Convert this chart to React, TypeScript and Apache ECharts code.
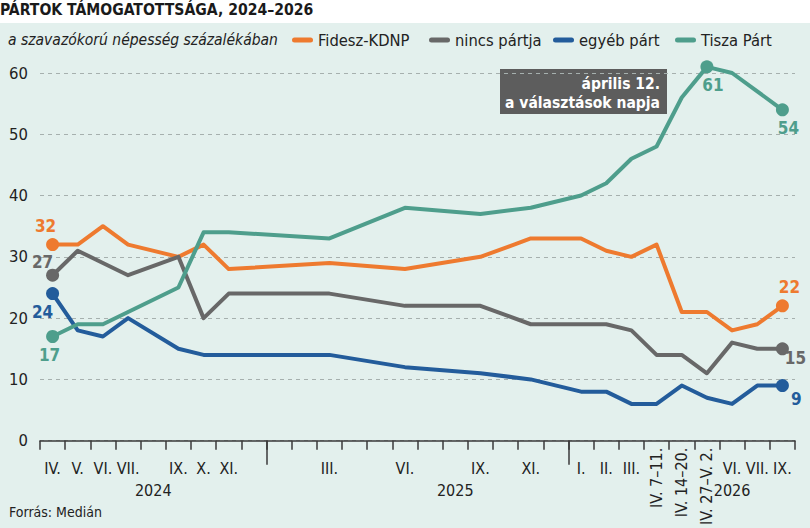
import React, { useEffect, useRef } from "react";
import * as echarts from "echarts";

// ---- data -------------------------------------------------------------
const categories = [
  "2024-04", "2024-05", "2024-06", "2024-07", "2024-08", "2024-09", "2024-10", "2024-11", "2024-12",
  "2025-01", "2025-02", "2025-03", "2025-04", "2025-05", "2025-06", "2025-07", "2025-08", "2025-09",
  "2025-10", "2025-11", "2025-12",
  "2026-01", "2026-02", "2026-03", "2026-04a", "2026-04b", "2026-04c", "2026-06", "2026-07", "2026-09",
];
const monthLabels = [
  "IV.", "V.", "VI.", "VII.", "", "IX.", "X.", "XI.", "",
  "", "", "III.", "", "", "VI.", "", "", "IX.", "", "XI.", "",
  "I.", "II.", "III.", "", "", "", "VI.", "VII.", "IX.",
];
const rotatedLabels: Record<number, string> = {
  24: "IV. 7–11.",
  25: "IV. 14–20.",
  26: "IV. 27–V. 2.",
};
const yearLabels: Record<number, string> = { 4: "2024", 16: "2025", 27: "2026" };
const yearBoundaries = [9, 21];
const electionBoundary = 25;

const fidesz = [32, 32, 35, 32, null, 30, 32, 28, null, null, null, 29, null, null, 28, null, null, 30, null, 33, null, 33, 31, 30, 32, 21, 21, 18, 19, 22];
const nincs = [27, 31, 29, 27, null, 30, 20, 24, null, null, null, 24, null, null, 22, null, null, 22, null, 19, null, 19, 19, 18, 14, 14, 11, 16, 15, 15];
const egyeb = [24, 18, 17, 20, null, 15, 14, 14, null, null, null, 14, null, null, 12, null, null, 11, null, 10, null, 8, 8, 6, 6, 9, 7, 6, 9, 9];
const tisza = [17, 19, 19, 21, null, 25, 34, 34, null, null, null, 33, null, null, 38, null, null, 37, null, 38, null, 40, 42, 46, 48, 56, 61, 60, 57, 54];

const yTicks = { min: 0, max: 60, interval: 10 };

// ---- styling -------------------------------------------------------------
const FONT = "'Liberation Sans Narrow', 'DejaVu Sans Condensed', sans-serif";
const TEXT = "#222222";
const AXIS = "#3a3a3a";

const seriesDefs = [
  { name: "Fidesz-KDNP", values: fidesz, color: "#EE7A2F", legendLeft: 292, marks: { 0: [-7, -19], 29: [7, -19] } as Record<number, number[]> },
  { name: "nincs pártja", values: nincs, color: "#686868", legendLeft: 429, marks: { 0: [-10, -13], 29: [13, 9] } as Record<number, number[]> },
  { name: "egyéb párt", values: egyeb, color: "#235C9B", legendLeft: 553, marks: { 0: [-10, 18], 29: [14, 13] } as Record<number, number[]> },
  { name: "Tisza Párt", values: tisza, color: "#4E9E8C", legendLeft: 675, marks: { 0: [-3, 18], 26: [6, 18], 29: [6, 18] } as Record<number, number[]> },
];

export default function App() {
  const ref = useRef<HTMLDivElement>(null);

  useEffect(() => {
    if (!ref.current) return;
    const chart = echarts.init(ref.current, undefined, { renderer: "svg" });

    const series: any[] = seriesDefs.map((s) => ({
      name: s.name,
      type: "line",
      xAxisIndex: 0,
      yAxisIndex: 0,
      data: s.values.map((v, i) =>
        s.marks[i]
          ? {
              value: v,
              symbol: "circle",
              symbolSize: 13,
              label: {
                show: true,
                position: "inside",
                offset: s.marks[i],
                color: s.color,
                fontSize: 17,
                fontWeight: "bold",
                fontFamily: FONT,
                formatter: "{c}",
              },
            }
          : v
      ),
      symbol: "none",
      showSymbol: true,
      showAllSymbol: true,
      connectNulls: true,
      clip: false,
      silent: true,
      color: s.color,
      itemStyle: { color: s.color },
      lineStyle: { color: s.color, width: 4, cap: "round", join: "round" },
      emphasis: { disabled: true },
    }));

    series.push({
      name: "election",
      type: "line",
      xAxisIndex: 2,
      yAxisIndex: 0,
      data: [],
      silent: true,
      markLine: {
        silent: true,
        symbol: ["none", "none"],
        label: { show: false },
        lineStyle: { color: "#8a8a8a", width: 1.2, type: "solid" },
        data: [[{ coord: [electionBoundary, 61.5] }, { coord: [electionBoundary, 0] }]],
      },
    });

    const boundaries = Array.from({ length: categories.length + 1 }, (_, i) => "b" + i);

    const option: any = {
      animation: false,
      backgroundColor: "#E3F0ED",
      textStyle: { fontFamily: FONT },
      title: [
        {
          text: "PÁRTOK TÁMOGATOTTSÁGA, 2024–2026",
          left: 0,
          top: 2,
          padding: 0,
          textStyle: { fontSize: 15.6, fontWeight: "bold", color: "#1a1a1a", fontFamily: FONT },
        },
        {
          text: "a szavazókorú népesség százalékában",
          left: 8,
          top: 32,
          padding: 0,
          textStyle: { fontSize: 15.5, fontStyle: "italic", fontWeight: "normal", color: TEXT, fontFamily: FONT },
        },
        {
          text: "Forrás: Medián",
          left: 9,
          top: 505,
          padding: 0,
          textStyle: { fontSize: 14, fontWeight: "normal", color: TEXT, fontFamily: FONT },
        },
      ],
      legend: seriesDefs.map((s) => ({
        data: [s.name],
        left: s.legendLeft,
        top: 32,
        padding: 0,
        itemWidth: 21,
        itemHeight: 5,
        icon: "path://M2.5,0 L18.5,0 A2.5,2.5 0 0 1 18.5,5 L2.5,5 A2.5,2.5 0 0 1 2.5,0 Z",
        selectedMode: false,
        textStyle: { fontSize: 16.4, color: TEXT, fontFamily: FONT, padding: [0, 0, 0, 0] },
      })),
      grid: { left: 40, right: 15, top: 73, bottom: 79, containLabel: false },
      xAxis: [
        {
          type: "category",
          position: "bottom",
          data: categories,
          boundaryGap: true,
          axisLine: { show: true, lineStyle: { color: AXIS, width: 1.5 } },
          axisTick: { show: true, interval: 0, length: 9, lineStyle: { color: AXIS, width: 1.5 } },
          axisLabel: {
            interval: 0,
            margin: 17,
            fontSize: 16,
            lineHeight: 22,
            color: TEXT,
            fontFamily: FONT,
            formatter: (_v: string, i: number) =>
              monthLabels[i] + (yearLabels[i] ? "\n" + yearLabels[i] : ""),
          },
          splitLine: { show: false },
        },
        {
          type: "category",
          position: "bottom",
          data: categories,
          boundaryGap: true,
          axisLine: { show: false },
          axisTick: { show: false },
          axisLabel: {
            interval: 0,
            rotate: 90,
            margin: 7,
            fontSize: 16,
            color: TEXT,
            fontFamily: FONT,
            formatter: (_v: string, i: number) => rotatedLabels[i] || "",
          },
          splitLine: { show: false },
        },
        {
          type: "category",
          position: "bottom",
          data: boundaries,
          boundaryGap: false,
          axisLine: { show: false },
          axisLabel: { show: false },
          axisTick: {
            show: true,
            length: 24,
            interval: (i: number) => yearBoundaries.includes(i),
            lineStyle: { color: AXIS, width: 1.5 },
          },
          splitLine: { show: false },
        },
      ],
      yAxis: {
        type: "value",
        min: yTicks.min,
        max: yTicks.max,
        interval: yTicks.interval,
        axisLine: { show: false },
        axisTick: { show: false },
        axisLabel: { fontSize: 16.5, color: TEXT, margin: 12, fontFamily: FONT },
        splitLine: { show: true, lineStyle: { color: "#a6b0ae", width: 1, type: [4, 4] } },
      },
      graphic: [
        {
          type: "rect",
          left: 0,
          top: 0,
          shape: { width: 810, height: 23 },
          style: { fill: "#ffffff" },
          z: -1,
          silent: true,
        },
        {
          type: "group",
          silent: true,
          z: 10,
          children: [
            {
              type: "rect",
              x: 500,
              y: 69,
              shape: { width: 167, height: 45 },
              style: { fill: "#5d5d5d" },
            },
            {
              type: "text",
              x: 660,
              y: 74,
              style: {
                text: "április 12.\na választások napja",
                align: "right",
                verticalAlign: "top",
                fill: "#ffffff",
                fontSize: 15.5,
                fontWeight: "bold",
                fontFamily: FONT,
                lineHeight: 19,
              },
            },
          ],
        },
      ],
      series,
    };

    chart.setOption(option);
    return () => chart.dispose();
  }, []);

  return (
    <div
      ref={ref}
      style={{ position: "absolute", left: 0, top: 0, width: 810, height: 528 }}
    />
  );
}
